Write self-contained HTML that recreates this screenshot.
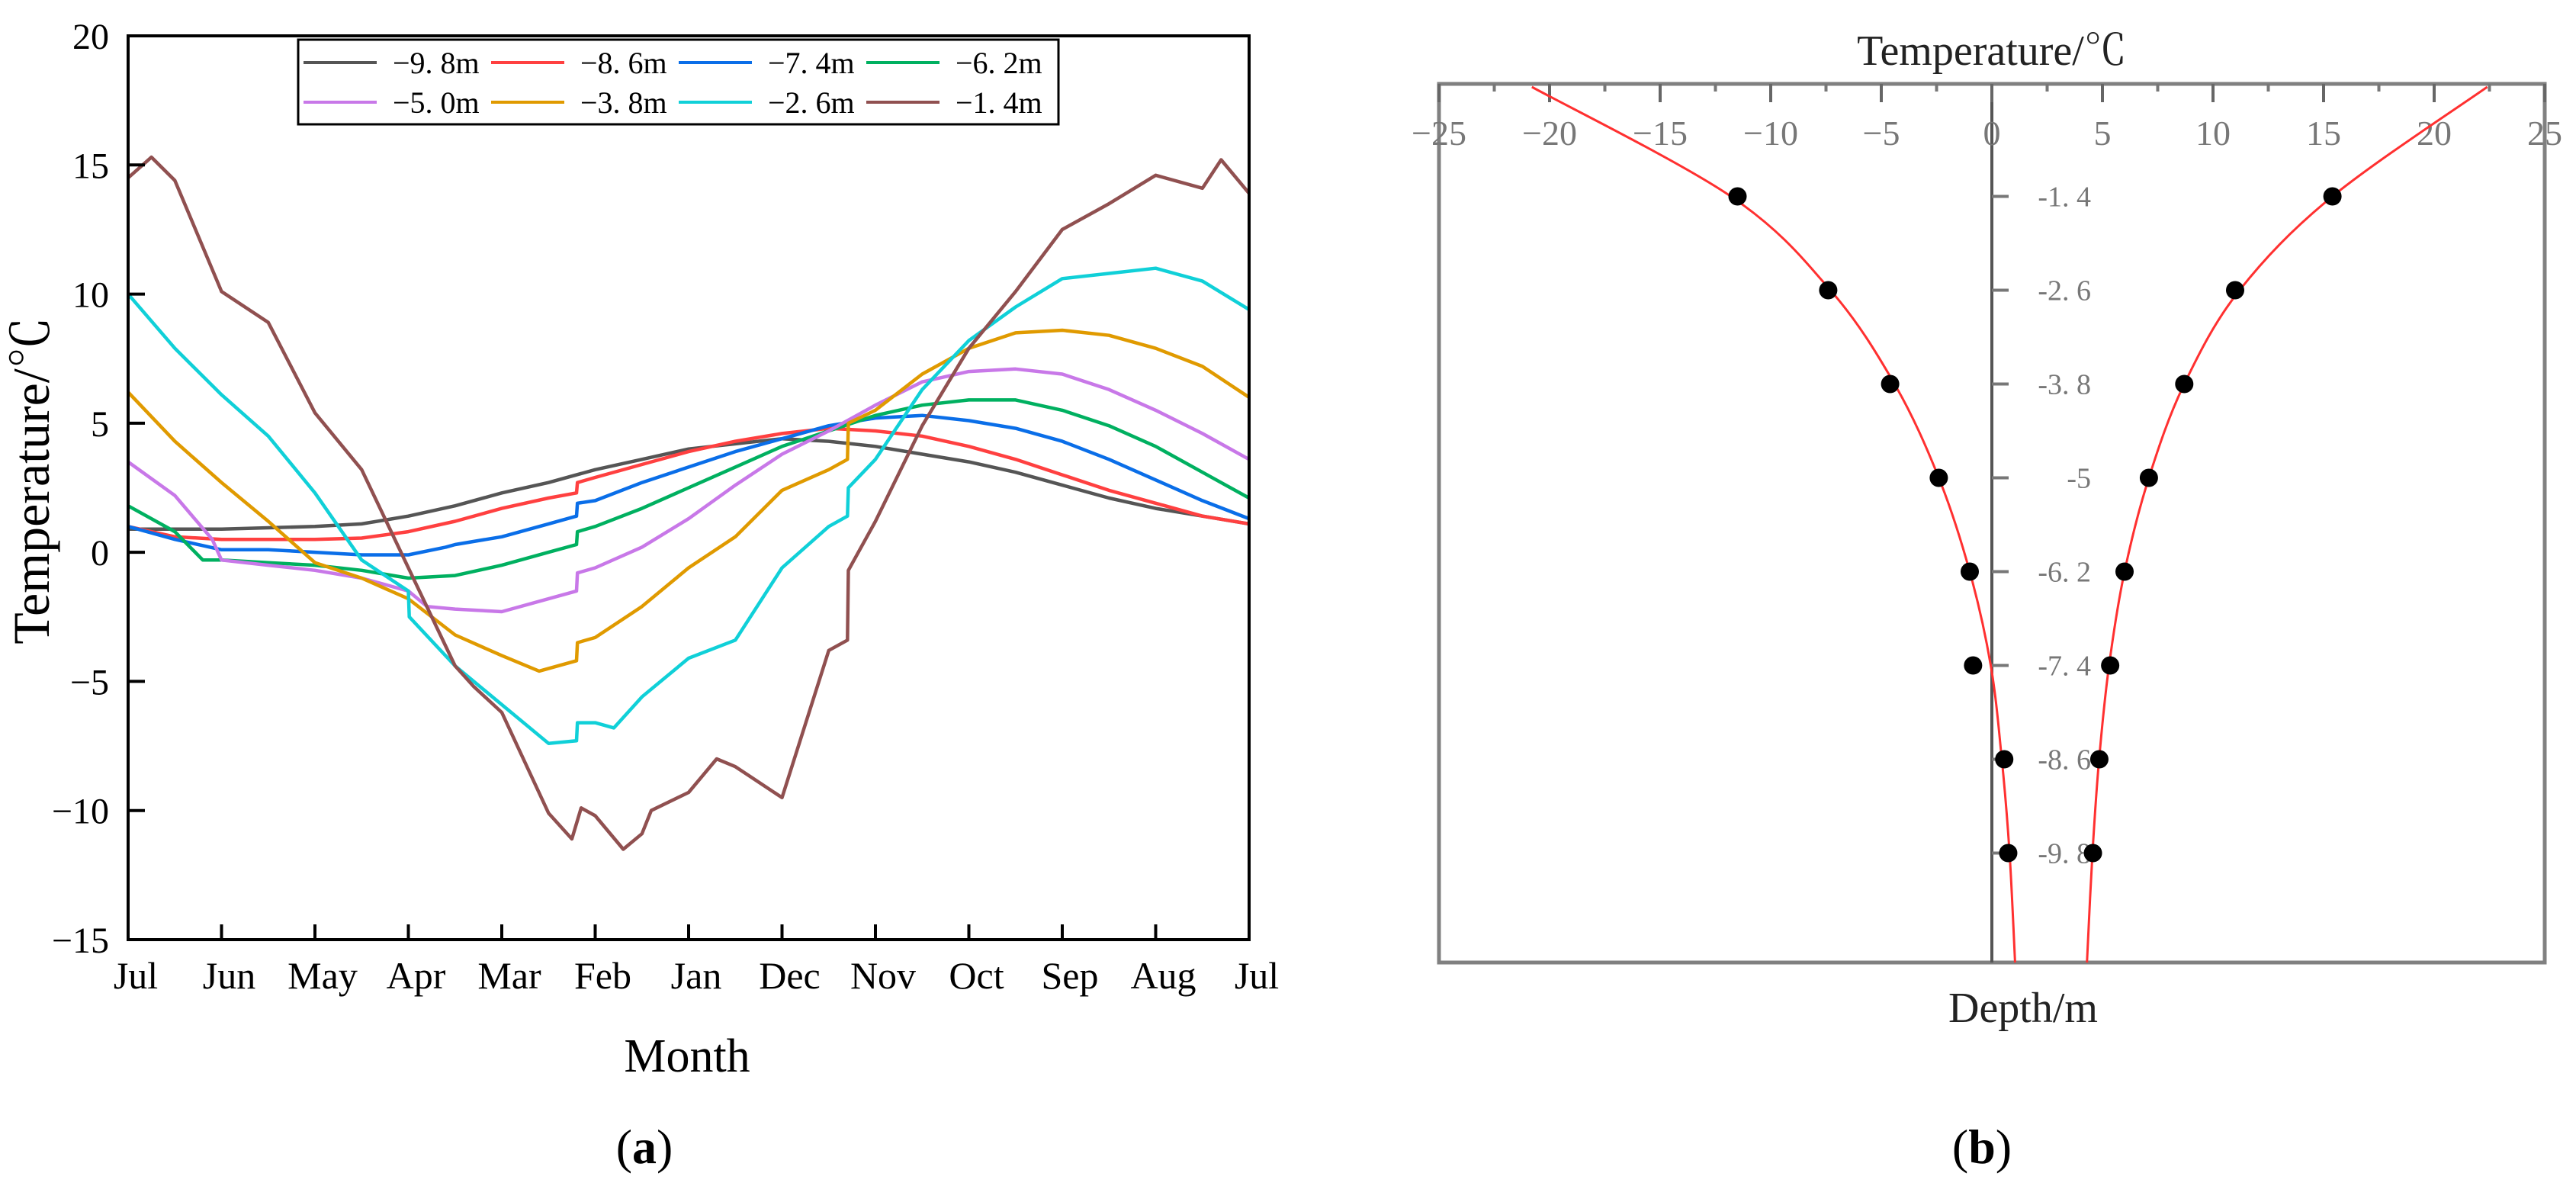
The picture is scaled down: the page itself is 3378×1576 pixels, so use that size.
<!DOCTYPE html>
<html><head><meta charset="utf-8"><style>
html,body{margin:0;padding:0;background:#fff;}
svg{display:block;}
text{font-family:"Liberation Serif","Noto Serif CJK SC",serif;}
</style></head><body>
<svg id="fig" width="3378" height="1576" viewBox="0 0 3378 1576" xmlns="http://www.w3.org/2000/svg">
<g id="chartA"></g>
<g id="chartB"></g>
<text x="901" y="1405" font-size="62" text-anchor="middle">Month</text>
<text x="845" y="1525" font-size="64" text-anchor="middle">(<tspan font-weight="bold">a</tspan>)</text>
<text x="2599" y="1525" font-size="64" text-anchor="middle">(<tspan font-weight="bold">b</tspan>)</text>
<text transform="translate(64,630) rotate(-90)" font-size="68" text-anchor="middle">Temperature/℃</text>
<text x="2612" y="85" font-size="56" text-anchor="middle" fill="#222">Temperature/℃</text>
<text x="2653" y="1340" font-size="56" text-anchor="middle" fill="#222">Depth/m</text>
</svg>
<script>
// ---------- Chart A data ----------
const monthLabels = ["Jul","Jun","May","Apr","Mar","Feb","Jan","Dec","Nov","Oct","Sep","Aug","Jul"];
const yTicksA = [20,15,10,5,0,-5,-10,-15];
const seriesNames = ["−9. 8m","−8. 6m","−7. 4m","−6. 2m","−5. 0m","−3. 8m","−2. 6m","−1. 4m"];
const seriesColors = ["#555555","#ff4040","#0a6ee8","#00b060","#c878e8","#e09a00","#10d0d8","#905050"];
// [month index, temperature]
const d98 = [[0,0.9],[1,0.9],[2,1.0],[2.5,1.1],[3,1.4],[3.5,1.8],[4,2.3],[4.5,2.7],[5,3.2],[5.5,3.6],[6,4.0],[6.5,4.2],[7,4.4],[7.5,4.3],[8,4.1],[8.5,3.8],[9,3.5],[9.5,3.1],[10,2.6],[10.5,2.1],[11,1.7],[11.5,1.4],[12,1.1]];
const d86 = [[0,1.0],[0.5,0.6],[1,0.5],[2,0.5],[2.5,0.55],[3,0.8],[3.5,1.2],[4,1.7],[4.5,2.1],[4.8,2.3],[4.81,2.7],[5,2.9],[5.5,3.4],[6,3.9],[6.5,4.3],[7,4.6],[7.5,4.8],[8,4.7],[8.5,4.5],[9,4.1],[9.5,3.6],[10,3.0],[10.5,2.4],[11,1.9],[11.5,1.4],[12,1.1]];
const d74 = [[0,1.0],[0.5,0.5],[1,0.1],[1.5,0.1],[2,0.0],[2.5,-0.1],[3,-0.1],[3.4,0.2],[3.5,0.3],[4,0.6],[4.5,1.1],[4.8,1.4],[4.81,1.9],[5,2.0],[5.5,2.7],[6,3.3],[6.5,3.9],[7,4.4],[7.5,4.9],[8,5.2],[8.5,5.3],[9,5.1],[9.5,4.8],[10,4.3],[10.5,3.6],[11,2.8],[11.5,2.0],[12,1.3]];
const d62 = [[0,1.8],[0.5,0.8],[0.8,-0.3],[1,-0.3],[1.5,-0.4],[2,-0.5],[2.5,-0.7],[3,-1.0],[3.5,-0.9],[4,-0.5],[4.5,0.0],[4.8,0.3],[4.81,0.8],[5,1.0],[5.5,1.7],[6,2.5],[6.5,3.3],[7,4.1],[7.5,4.7],[8,5.3],[8.5,5.7],[9,5.9],[9.5,5.9],[10,5.5],[10.5,4.9],[11,4.1],[11.5,3.1],[12,2.1]];
const d50 = [[0,3.5],[0.5,2.2],[0.9,0.5],[1,-0.3],[1.5,-0.5],[2,-0.7],[2.5,-1.0],[3,-1.5],[3.2,-2.1],[3.5,-2.2],[4,-2.3],[4.5,-1.8],[4.8,-1.5],[4.81,-0.8],[5,-0.6],[5.5,0.2],[6,1.3],[6.5,2.6],[7,3.8],[7.5,4.7],[8,5.7],[8.5,6.6],[9,7.0],[9.5,7.1],[10,6.9],[10.5,6.3],[11,5.5],[11.5,4.6],[12,3.6]];
const d38 = [[0,6.2],[0.5,4.3],[1,2.7],[1.5,1.2],[2,-0.4],[2.5,-1.0],[3,-1.8],[3.5,-3.2],[4,-4.0],[4.4,-4.6],[4.8,-4.2],[4.81,-3.5],[5,-3.3],[5.5,-2.1],[6,-0.6],[6.5,0.6],[7,2.4],[7.5,3.2],[7.7,3.6],[7.71,5.0],[8,5.5],[8.5,6.9],[9,7.9],[9.5,8.5],[10,8.6],[10.5,8.4],[11,7.9],[11.5,7.2],[12,6.0]];
const d26 = [[0,10.0],[0.5,7.9],[1,6.1],[1.5,4.5],[2,2.3],[2.5,-0.3],[3,-1.5],[3.01,-2.5],[3.5,-4.4],[4,-5.9],[4.5,-7.4],[4.8,-7.3],[4.81,-6.6],[5,-6.6],[5.2,-6.8],[5.5,-5.6],[6,-4.1],[6.5,-3.4],[7,-0.6],[7.5,1.0],[7.7,1.4],[7.71,2.5],[8,3.6],[8.5,6.3],[9,8.2],[9.5,9.5],[10,10.6],[10.5,10.8],[11,11.0],[11.5,10.5],[12,9.4]];
const d14 = [[0,14.5],[0.25,15.3],[0.5,14.4],[1,10.1],[1.5,8.9],[2,5.4],[2.5,3.2],[3,-0.6],[3.5,-4.4],[3.7,-5.2],[4,-6.2],[4.5,-10.1],[4.75,-11.1],[4.85,-9.9],[5,-10.2],[5.3,-11.5],[5.5,-10.9],[5.6,-10.0],[6,-9.3],[6.3,-8.0],[6.5,-8.3],[7,-9.5],[7.5,-3.8],[7.7,-3.4],[7.71,-0.7],[8,1.2],[8.5,4.9],[9,7.9],[9.5,10.1],[10,12.5],[10.5,13.5],[11,14.6],[11.5,14.1],[11.7,15.2],[12,13.9]];

// ---------- Chart B data ----------
const xTicksB = [-25,-20,-15,-10,-5,0,5,10,15,20,25];
const depthTicks = [-1.4,-2.6,-3.8,-5,-6.2,-7.4,-8.6,-9.8];
const depthTickLabels = ["-1. 4","-2. 6","-3. 8","-5","-6. 2","-7. 4","-8. 6","-9. 8"];
const minTemps = [-11.5,-7.4,-4.6,-2.4,-1.0,-0.85,0.56,0.74];
const maxTemps = [15.4,11.0,8.7,7.1,6.0,5.35,4.86,4.57];
const fitDepths = [0,1.4,2.6,3.8,5,6.2,7.4,8.6,9.8,11.2];
const fitMin = [-20.8,-11.8,-7.3,-4.4,-2.4,-1.0,-0.05,0.45,0.8,1.05];
const fitMax = [22.4,15.4,11.2,8.7,7.1,6.0,5.3,4.85,4.55,4.3];

const NS="http://www.w3.org/2000/svg";
function mk(parent,tag,attrs){const e=document.createElementNS(NS,tag);for(const k in attrs)e.setAttribute(k,attrs[k]);parent.appendChild(e);return e;}

// Chart A axes
const AX0=168,AX1=1638,AY0=47,AY1=1232;
function xA(m){return AX0+(AX1-AX0)*m/12;}
function yA(t){return AY0+(20-t)*(AY1-AY0)/35;}
const gA=document.getElementById('chartA');
const series=[d98,d86,d74,d62,d50,d38,d26,d14];
const clip=mk(gA,'clipPath',{id:'clipA'});mk(clip,'rect',{x:AX0,y:AY0,width:AX1-AX0,height:AY1-AY0});
series.forEach((s,i)=>{
  const p=mk(gA,'path',{d:s.map((pt,j)=>(j?'L':'M')+xA(pt[0]).toFixed(1)+','+yA(pt[1]).toFixed(1)).join(''),fill:'none',stroke:seriesColors[i],'stroke-width':4.5,'stroke-linejoin':'round','clip-path':'url(#clipA)'});
  
  
});
const frame=mk(gA,'rect',{x:AX0,y:AY0,width:AX1-AX0,height:AY1-AY0,fill:'none',stroke:'#000','stroke-width':4});


monthLabels.forEach((lab,i)=>{
  const x=xA(i);
  if(i>0&&i<12){const t=mk(gA,'line',{x1:x,x2:x,y1:AY1,y2:AY1-20,stroke:'#000','stroke-width':4});
  
  }
  const tx=mk(gA,'text',{x:x+10,y:1296,'font-size':50,'text-anchor':'middle'});tx.textContent=lab;
  
  
});
yTicksA.forEach(v=>{
  const y=yA(v);
  const t=mk(gA,'line',{x1:AX0,x2:AX0+22,y1:y,y2:y,stroke:'#000','stroke-width':4});
  
  
  const tx=mk(gA,'text',{x:143,y:y+17,'font-size':48,'text-anchor':'end'});tx.textContent=(v<0?'−':'')+Math.abs(v);
  
  
});
// legend
const lg=mk(gA,'g',{});


mk(lg,'rect',{x:391,y:52,width:997,height:111,fill:'#fff',stroke:'#000','stroke-width':3});
seriesNames.forEach((n,i)=>{
  const col=i%4,row=Math.floor(i/4);
  const lx=398+col*246,ly=82+row*52;
  const e=mk(lg,'g',{});
  
  
  mk(e,'line',{x1:lx,x2:lx+96,y1:ly,y2:ly,stroke:seriesColors[i],'stroke-width':4});
  const tx=mk(e,'text',{x:lx+117,y:ly+14,'font-size':40});tx.textContent=n;
});

// Chart B
const BX0=1887,BX1=3337,BY0=110,BY1=1262;
function xB(t){return 2612+t*29;}
function yB(d){return 114+d*102.5;}
const gB=document.getElementById('chartB');
const fb=mk(gB,'rect',{x:BX0,y:BY0,width:BX1-BX0,height:BY1-BY0,fill:'none',stroke:'#808080','stroke-width':5});


const za=mk(gB,'line',{x1:xB(0),x2:xB(0),y1:BY0,y2:BY1,stroke:'#555','stroke-width':4});


xTicksB.forEach((v,i)=>{
  const x=xB(v);
  const t=mk(gB,'line',{x1:x,x2:x,y1:BY0,y2:BY0+24,stroke:'#666','stroke-width':4});
  
  
  if(i<xTicksB.length-1){const m=mk(gB,'line',{x1:xB(v+2.5),x2:xB(v+2.5),y1:BY0,y2:BY0+10,stroke:'#777','stroke-width':4});
  
  }
  const tx=mk(gB,'text',{x:x,y:190,'font-size':46,'text-anchor':'middle',fill:'#777'});tx.textContent=(v<0?'−':'')+Math.abs(v);
  
  
});
depthTicks.forEach((d,i)=>{
  const y=yB(-d);
  const t=mk(gB,'line',{x1:xB(0),x2:xB(0)+22,y1:y,y2:y,stroke:'#777','stroke-width':4});
  
  
  const tx=mk(gB,'text',{x:2742,y:y+13,'font-size':38,'text-anchor':'end',fill:'#777'});tx.textContent=depthTickLabels[i];
  
  
});
function smooth(xs,ys){
  const P=xs.map((d,i)=>[xB(ys[i]),yB(d)]);
  let s='M'+P[0][0]+','+P[0][1];
  for(let i=0;i<P.length-1;i++){
    const p0=P[i-1]||P[i],p1=P[i],p2=P[i+1],p3=P[i+2]||P[i+1];
    const c1=[p1[0]+(p2[0]-p0[0])/6,p1[1]+(p2[1]-p0[1])/6];
    const c2=[p2[0]-(p3[0]-p1[0])/6,p2[1]-(p3[1]-p1[1])/6];
    s+='C'+c1.join(',')+' '+c2.join(',')+' '+p2.join(',');
  }
  return s;
}
[fitMin,fitMax].forEach((f,i)=>{
  const p=mk(gB,'path',{d:smooth(fitDepths,f),fill:'none',stroke:'#ff3030','stroke-width':3});
  
  
});
[minTemps,maxTemps].forEach((arr,k)=>{
  arr.forEach((t,i)=>{
    const c=mk(gB,'circle',{cx:xB(t),cy:yB(-depthTicks[i]),r:12,fill:'#000'});
    
    
  });
});
</script>
</body></html>
